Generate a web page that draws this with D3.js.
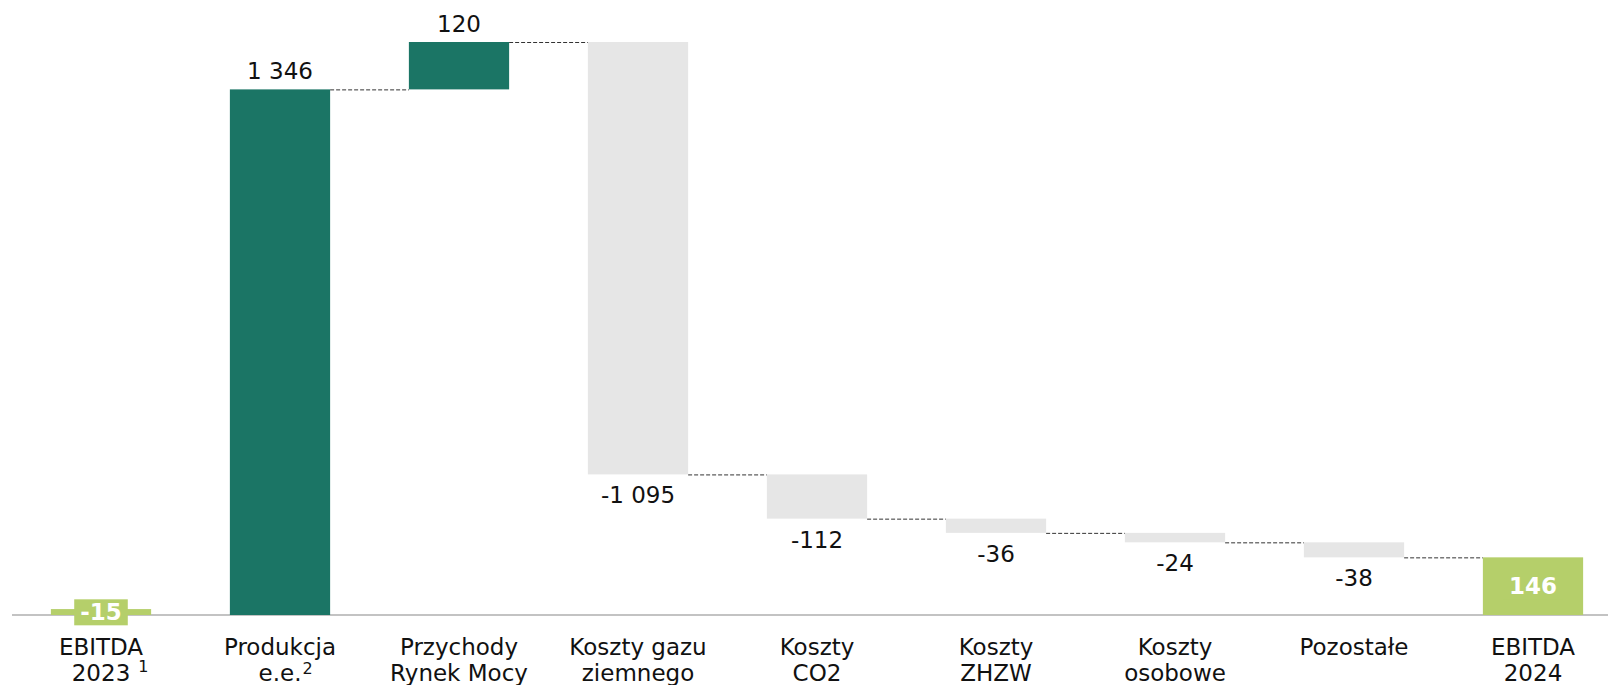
<!DOCTYPE html>
<html>
<head>
<meta charset="utf-8">
<script src="https://cdn.jsdelivr.net/npm/d3@7"></script>
<style>
  html, body { margin: 0; padding: 0; background: #fff; }
  svg { display: block; font-family: "DejaVu Sans", Verdana, sans-serif; }
</style>
</head>
<body>
<svg id="chart" width="1608" height="685"></svg>
<script>
// chart data
const categories = ['EBITDA 2023', 'Produkcja e.e.', 'Przychody Rynek Mocy', 'Koszty gazu ziemnego',
  'Koszty CO2', 'Koszty ZHZW', 'Koszty osobowe', 'Pozostałe', 'EBITDA 2024'];
const labelLines = [['EBITDA', '2023'], ['Produkcja', 'e.e.'], ['Przychody', 'Rynek Mocy'],
  ['Koszty gazu', 'ziemnego'], ['Koszty', 'CO2'], ['Koszty', 'ZHZW'], ['Koszty', 'osobowe'],
  ['Pozostałe'], ['EBITDA', '2024']];
const footnotes = ['1', '2', '', '', '', '', '', '', ''];
const values = [-15, 1346, 120, -1095, -112, -36, -24, -38, 146];
const kinds = ['total', 'delta', 'delta', 'delta', 'delta', 'delta', 'delta', 'delta', 'total'];
const valueLabels = ['-15', '1 346', '120', '-1 095', '-112', '-36', '-24', '-38', '146'];

const colors = { up: '#1b7565', down: '#e6e6e6', total: '#b5cf6a' };

const width = 1608, height = 685;
const baseY = 615;

// running totals
let run = 0;
const rows = categories.map((c, i) => {
  let start, end;
  if (kinds[i] === 'total') { start = 0; end = values[i]; run = values[i]; }
  else { start = run; end = run + values[i]; run = end; }
  return { cat: c, i, v: values[i], kind: kinds[i], start, end, label: valueLabels[i] };
});

const x = d3.scaleBand()
  .domain(categories)
  .range([11.5, 1622.5])
  .paddingInner(0.44)
  .paddingOuter(0.22);

const y = d3.scaleLinear()
  .domain([0, 1451])
  .range([baseY, 42]);

const svg = d3.select('#chart');

// bar extents (Excel-style: totals drawn upward, nothing below the axis)
const barTop = d => d.kind === 'total' ? Math.abs(d.v) : Math.max(0, d.start, d.end);
const barBot = d => d.kind === 'total' ? 0 : Math.max(0, Math.min(d.start, d.end));

// connectors
svg.append('g')
  .selectAll('line')
  .data(rows.slice(0, -1))
  .join('line')
  .attr('x1', d => x(d.cat) + x.bandwidth())
  .attr('x2', d => x(categories[d.i + 1]))
  .attr('y1', d => y(Math.max(0, d.end)) + 0.5)
  .attr('y2', d => y(Math.max(0, d.end)) + 0.5)
  .attr('stroke', '#333')
  .attr('stroke-width', 1)
  .attr('stroke-dasharray', '4,2');

// axis line
svg.append('line')
  .attr('x1', 12).attr('x2', width)
  .attr('y1', baseY).attr('y2', baseY)
  .attr('stroke', '#c3c3c3')
  .attr('stroke-width', 2);

// bars
svg.append('g')
  .selectAll('rect')
  .data(rows)
  .join('rect')
  .attr('x', d => x(d.cat))
  .attr('width', x.bandwidth())
  .attr('y', d => y(barTop(d)))
  .attr('height', d => y(barBot(d)) - y(barTop(d)))
  .attr('fill', d => d.kind === 'total' ? colors.total : (d.v >= 0 ? colors.up : colors.down));

// value labels for deltas
svg.append('g')
  .selectAll('text')
  .data(rows.filter(d => d.kind === 'delta'))
  .join('text')
  .attr('x', d => x(d.cat) + x.bandwidth() / 2)
  .attr('y', d => d.v >= 0 ? y(barTop(d)) - 10 : y(barBot(d)) + 29)
  .attr('text-anchor', 'middle')
  .attr('font-size', 23)
  .attr('fill', '#111')
  .text(d => d.label);

// total labels, white bold on a box in the bar colour
const totals = svg.append('g')
  .selectAll('g')
  .data(rows.filter(d => d.kind === 'total'))
  .join('g');

totals.append('rect').attr('fill', colors.total);
totals.append('text')
  .attr('x', d => x(d.cat) + x.bandwidth() / 2)
  .attr('y', d => (y(barTop(d)) + y(barBot(d))) / 2)
  .attr('dy', '0.36em')
  .attr('text-anchor', 'middle')
  .attr('font-size', 23)
  .attr('font-weight', 'bold')
  .attr('fill', '#fff')
  .text(d => d.label);
totals.each(function () {
  const g = d3.select(this);
  const b = g.select('text').node().getBBox();
  g.select('rect')
    .attr('x', b.x - 6).attr('y', b.y)
    .attr('width', b.width + 12).attr('height', b.height);
});

// category labels
const cats = svg.append('g')
  .selectAll('g')
  .data(rows)
  .join('g')
  .attr('transform', d => `translate(${x(d.cat) + x.bandwidth() / 2},0)`);

cats.each(function (d) {
  const g = d3.select(this);
  const lines = labelLines[d.i];
  lines.forEach((t, k) => {
    g.append('text')
      .attr('y', 655 + k * 26)
      .attr('text-anchor', 'middle')
      .attr('font-size', 23)
      .attr('fill', '#111')
      .text(t);
  });
  const note = footnotes[d.i];
  if (note) {
    const last = g.selectAll('text').nodes().pop();
    const w = last.getComputedTextLength();
    const gap = d.i === 0 ? 8 : 1;
    g.append('text')
      .attr('x', w / 2 + gap)
      .attr('y', d.i === 0 ? 672 : 674)
      .attr('font-size', 16)
      .attr('fill', '#111')
      .text(note);
  }
});
</script>
</body>
</html>
